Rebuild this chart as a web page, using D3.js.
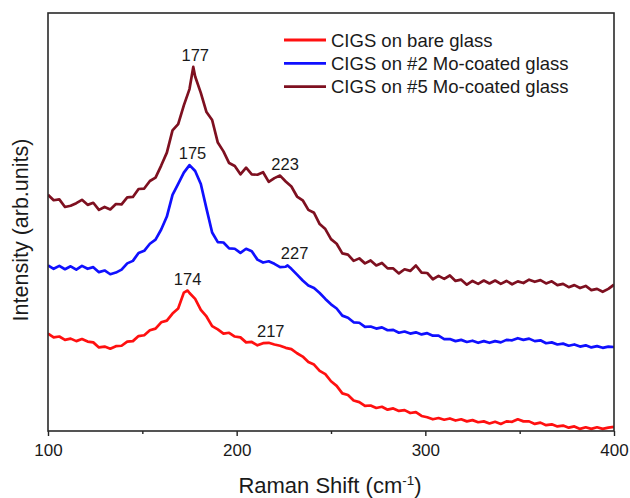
<!DOCTYPE html>
<html>
<head>
<meta charset="utf-8">
<script src="https://cdn.jsdelivr.net/npm/d3@7/dist/d3.min.js"></script>
<style>
  body { margin: 0; background: #fff; }
  svg { display: block; }
  text { font-family: "Liberation Sans", Arial, sans-serif; fill: #1a1a1a; }
</style>
</head>
<body>
<svg id="chart" width="630" height="498"></svg>
<script>
// Raman shift grid (cm^-1), sampled every 3 cm^-1
const ramanShift = d3.range(100, 401, 3);

// Intensity (arb. units) on the grid above
const bareGlass = [
  23.3, 22.4, 22.6, 21.8, 22.1, 21.5, 22.0, 21.4, 21.2, 20.0,
  20.2, 19.7, 20.3, 20.4, 21.4, 21.5, 22.7, 22.9, 24.1, 24.5,
  26.0, 26.4, 28.1, 29.3, 33.1, 33.0, 31.6, 29.0, 27.4, 25.1,
  24.3, 23.3, 23.5, 22.6, 22.4, 21.2, 21.3, 20.5, 21.0, 21.1,
  20.7, 20.4, 19.9, 19.6, 18.6, 17.8, 16.5, 15.9, 14.4, 13.6,
  11.9, 10.8, 9.0, 8.6, 7.3, 6.9, 6.0, 6.1, 5.5, 5.8,
  5.1, 5.4, 4.8, 5.0, 4.3, 4.5, 3.6, 3.3, 2.8, 3.1,
  2.7, 3.0, 2.5, 2.8, 2.3, 2.6, 2.1, 2.3, 1.8, 2.2,
  1.7, 2.3, 2.2, 2.8, 2.3, 2.3, 1.7, 2.0, 1.4, 1.6,
  1.1, 1.3, 0.8, 1.1, 0.5, 0.9, 0.5, 0.9, 0.5, 0.8,
  1.0
];

const mo2Glass = [
  39.6, 38.8, 39.5, 38.7, 39.4, 38.6, 39.5, 38.8, 39.2, 38.0,
  38.4, 37.5, 37.9, 38.6, 40.1, 40.7, 42.6, 43.1, 44.8, 45.8,
  48.2, 51.3, 56.5, 59.1, 61.8, 63.6, 62.2, 59.1, 53.2, 47.5,
  45.2, 45.1, 43.7, 43.6, 42.6, 43.6, 43.0, 41.0, 40.3, 40.6,
  40.0, 39.2, 39.3, 38.8, 37.4, 36.0, 34.8, 34.2, 33.0, 31.6,
  30.3, 29.3, 27.6, 27.1, 26.0, 25.9, 24.9, 25.0, 24.5, 24.8,
  24.1, 24.2, 23.5, 23.8, 23.3, 23.6, 23.1, 23.4, 22.8, 22.8,
  22.0, 22.0, 21.5, 21.8, 21.3, 21.6, 21.1, 21.5, 21.1, 21.5,
  21.2, 21.8, 21.7, 22.2, 21.8, 22.1, 21.5, 21.7, 21.0, 21.2,
  20.7, 20.9, 20.4, 20.7, 20.2, 20.5, 20.0, 20.3, 19.9, 20.2,
  20.1
];

const mo5Glass = [
  56.5, 55.2, 55.4, 53.6, 53.9, 54.5, 55.3, 54.1, 54.6, 52.9,
  53.6, 53.0, 54.3, 54.2, 55.9, 56.0, 57.9, 58.0, 59.8, 60.6,
  63.5, 66.6, 71.9, 73.4, 77.9, 81.8, 84.8, 80.9, 76.3, 74.4,
  69.0, 66.9, 64.1, 63.4, 61.4, 63.0, 61.4, 61.3, 61.9, 59.6,
  60.5, 61.1, 59.7, 58.5, 56.1, 55.2, 52.9, 52.2, 49.5, 48.3,
  45.9, 44.8, 42.5, 42.2, 40.7, 41.3, 40.1, 40.8, 39.6, 40.2,
  38.9, 38.9, 37.7, 38.7, 38.3, 39.6, 37.9, 37.8, 36.3, 37.1,
  36.4, 37.2, 35.9, 36.2, 35.0, 35.9, 35.2, 36.0, 35.3, 36.0,
  35.2, 35.9, 35.1, 35.8, 35.4, 36.2, 35.7, 36.1, 35.3, 35.8,
  34.9, 35.2, 34.4, 34.9, 34.2, 34.7, 33.7, 34.0, 33.3, 34.0,
  35.0
];

// Labelled band positions (cm^-1) and their intensities
const peaksBare = [{ shift: 174, intensity: 33.6 }, { shift: 217, intensity: 21.1 }];
const peaksMo2  = [{ shift: 175, intensity: 63.6 }, { shift: 227, intensity: 39.6 }];
const peaksMo5  = [{ shift: 177, intensity: 87.1 }, { shift: 223, intensity: 61.1 }];

const seriesNames = ["CIGS on bare glass", "CIGS on #2 Mo-coated glass", "CIGS on #5 Mo-coated glass"];
const seriesColors = ["#ff1010", "#1010ff", "#7e1020"];

const xTicks = [100, 200, 300, 400];
const xMinorTicks = [150, 250, 350];
const xDomain = [100, 400];
const yDomain = [0, 100];

// ---- layout ----
const margin = { left: 48, top: 13, right: 16, bottom: 67 };
const W = 630, H = 498;
const plotW = W - margin.left - margin.right;
const plotH = H - margin.top - margin.bottom;

const svg = d3.select("#chart");
const g = svg.append("g").attr("transform", `translate(${margin.left},${margin.top})`);

const x = d3.scaleLinear().domain(xDomain).range([0, plotW]);
const y = d3.scaleLinear().domain(yDomain).range([plotH, 0]);

// merge a sampled spectrum with its labelled band maxima
function spectrum(values, peaks) {
  const pts = ramanShift.map((s, i) => ({ shift: s, intensity: values[i] }));
  peaks.forEach(p => {
    const hit = pts.find(d => d.shift === p.shift);
    if (hit) hit.intensity = p.intensity; else pts.push({ ...p });
  });
  return pts.sort((a, b) => a.shift - b.shift);
}

const series = [
  { name: seriesNames[0], color: seriesColors[0], data: spectrum(bareGlass, peaksBare), peaks: peaksBare },
  { name: seriesNames[1], color: seriesColors[1], data: spectrum(mo2Glass, peaksMo2), peaks: peaksMo2 },
  { name: seriesNames[2], color: seriesColors[2], data: spectrum(mo5Glass, peaksMo5), peaks: peaksMo5 }
];

const line = d3.line().x(d => x(d.shift)).y(d => y(d.intensity));

g.append("defs").append("clipPath").attr("id", "plot-clip")
  .append("rect").attr("width", plotW).attr("height", plotH);

g.append("g").attr("clip-path", "url(#plot-clip)")
  .selectAll("path.spec").data(series).join("path")
  .attr("class", "spec")
  .attr("d", d => line(d.data))
  .attr("fill", "none")
  .attr("stroke", d => d.color)
  .attr("stroke-width", 2.7)
  .attr("stroke-linejoin", "round");

// band position labels
const labelNudge = { 174: 0, 217: 2, 175: 3, 227: 7, 177: 2, 223: 5 };
series.forEach(s => {
  g.selectAll(null).data(s.peaks).join("text")
    .attr("x", d => x(d.shift) + labelNudge[d.shift])
    .attr("y", d => y(d.intensity) - 6)
    .attr("text-anchor", "middle")
    .attr("font-size", 16.5)
    .text(d => d.shift);
});

// bottom axis: major and minor ticks, outward
const xAxis = d3.axisBottom(x).tickValues(xTicks).tickSize(5).tickPadding(8).tickFormat(d3.format("d"));
const axG = g.append("g").attr("transform", `translate(0,${plotH})`).call(xAxis);
axG.select(".domain").remove();
axG.selectAll("line").attr("stroke", "#222").attr("stroke-width", 1.4);
axG.selectAll("text").attr("font-size", 17).attr("fill", "#1a1a1a")
  .attr("font-family", "'Liberation Sans', Arial, sans-serif");
const axMinor = g.append("g").attr("transform", `translate(0,${plotH})`)
  .call(d3.axisBottom(x).tickValues(xMinorTicks).tickSize(3).tickFormat(""));
axMinor.select(".domain").remove();
axMinor.selectAll("line").attr("stroke", "#222").attr("stroke-width", 1.4);

// frame
g.append("rect").attr("width", plotW).attr("height", plotH)
  .attr("fill", "none").attr("stroke", "#2a2a2a").attr("stroke-width", 1.6);

// axis titles
const xt = svg.append("text")
  .attr("x", 330).attr("y", 493)
  .attr("text-anchor", "middle").attr("font-size", 22);
xt.append("tspan").text("Raman Shift (cm");
xt.append("tspan").attr("font-size", 13.5).attr("dy", -8).text("-1");
xt.append("tspan").attr("dy", 8).text(")");

svg.append("text")
  .attr("transform", `translate(28,${margin.top + plotH / 2 + 8}) rotate(-90)`)
  .attr("text-anchor", "middle").attr("font-size", 21.5)
  .text("Intensity (arb.units)");

// legend
const legend = g.append("g").attr("transform", `translate(${284 - margin.left},${40 - margin.top})`);
series.forEach((s, i) => {
  const row = legend.append("g").attr("transform", `translate(0,${i * 23.3})`);
  row.append("line").attr("x1", 0).attr("x2", 42).attr("y1", 0).attr("y2", 0)
    .attr("stroke", s.color).attr("stroke-width", 2.8);
  row.append("text").attr("x", 47).attr("y", 6.5).attr("font-size", 18.5).text(s.name);
});
</script>
</body>
</html>
